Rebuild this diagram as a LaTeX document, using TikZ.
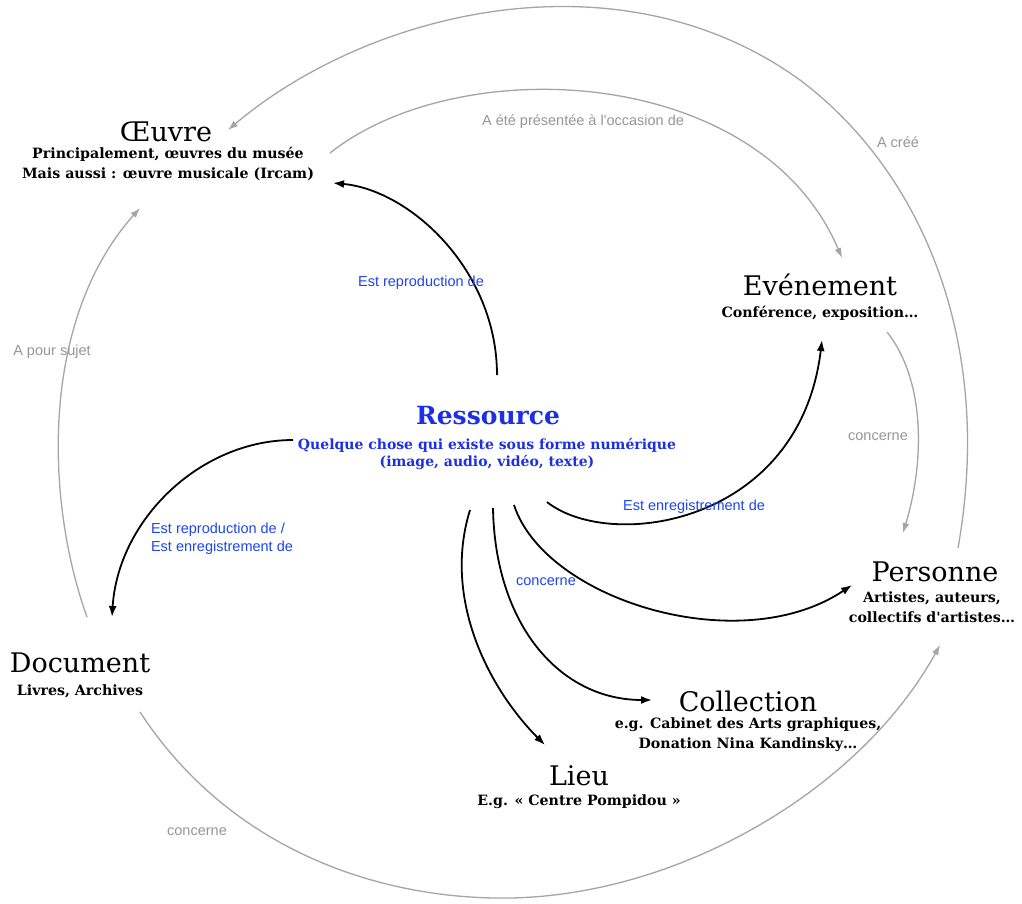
\documentclass[tikz,border=0pt]{standalone}
\usepackage{fontspec}
\setmainfont{DejaVu Serif}
\newfontfamily\slab{DejaVu Serif}
\newfontfamily\lab{Liberation Sans}
\usetikzlibrary{arrows.meta}
\definecolor{rblue}{RGB}{28,48,225}
\definecolor{lblue}{RGB}{30,70,235}
\definecolor{gline}{RGB}{165,165,165}
\definecolor{gtext}{RGB}{150,150,150}
\tikzset{
  ttl/.style={inner sep=0pt, font=\slab\fontsize{27}{29}\selectfont},
  sub/.style={inner sep=0pt, align=center, font=\slab\bfseries\fontsize{14.2}{20}\selectfont},
  rttl/.style={inner sep=0pt, text=rblue, font=\slab\bfseries\fontsize{25}{27}\selectfont},
  rsub/.style={inner sep=0pt, align=center, text=rblue, font=\slab\bfseries\fontsize{14}{17.5}\selectfont},
  glab/.style={inner sep=0pt, text=gtext, font=\lab\fontsize{14.5}{17}\selectfont},
  blab/.style={inner sep=0pt, text=lblue, font=\lab\fontsize{14.5}{18}\selectfont},
  blk/.style={draw=black, line width=1.8pt, -{Latex[length=11pt,width=8pt]}},
  gry/.style={draw=gline, line width=1.3pt, -{Latex[length=10pt,width=7pt]}}
}
\begin{document}
\begin{tikzpicture}[x=1pt,y=-1pt]
\useasboundingbox[fill=white] (0,0) rectangle (1022,903);
% entities
\node[ttl]  (oeuvre)     at (166,132) {Œuvre};
\node[sub]  (oeuvresub)  at (168,164) {Principalement, œuvres du musée\\Mais aussi : œuvre musicale (Ircam)};
\node[rttl] (ress)       at (488,416) {Ressource};
\node[rsub] (resssub)    at (487,454) {Quelque chose qui existe sous forme numérique\\(image, audio, vidéo, texte)};
\node[ttl]  (event)      at (820,285) {Evénement};
\node[sub]  (eventsub)   at (820,313) {Conférence, exposition…};
\node[ttl]  (pers)       at (935,572) {Personne};
\node[sub]  (perssub)    at (932,607) {Artistes, auteurs,\\collectifs d'artistes…};
\node[ttl]  (coll)       at (748,701) {Collection};
\node[sub]  (collsub)    at (748,735) {e.g. Cabinet des Arts graphiques,\\Donation Nina Kandinsky…};
\node[ttl]  (lieu)       at (579,776) {Lieu};
\node[sub]  (lieusub)    at (579,802) {E.g. « Centre Pompidou »};
\node[ttl]  (doc)        at (80,663)  {Document};
\node[sub]  (docsub)     at (80,691)  {Livres, Archives};
% connector end points
\coordinate (r-oe) at (497,375);
\coordinate (oe-in) at (333,183);
\coordinate (r-doc) at (293,440);
\coordinate (doc-in) at (112,617);
\coordinate (r-ev) at (547,502);
\coordinate (ev-in) at (822,340);
\coordinate (r-pe) at (514,505);
\coordinate (pe-in) at (852,585);
\coordinate (r-co) at (493,508);
\coordinate (co-in) at (652,700);
\coordinate (r-li) at (470,510);
\coordinate (li-in) at (545,745);
% black connectors
\draw[blk] (r-oe) .. controls (497,270) and (410,190) .. (oe-in);
\draw[blk] (r-doc) .. controls (200,440) and (118,520) .. (doc-in);
\draw[blk] (r-ev) .. controls (610,552) and (800,525) .. (ev-in);
\draw[blk] (r-pe) .. controls (545,600) and (740,660) .. (pe-in);
\draw[blk] (r-co) .. controls (495,625) and (560,700) .. (co-in);
\draw[blk] (r-li) .. controls (442,600) and (490,690) .. (li-in);
% gray connectors
\coordinate (pe-out) at (958,548);
\coordinate (oe-in2) at (228,130);
\coordinate (top) at (800,80);
\coordinate (oe-out) at (330,153);
\coordinate (ev-in2) at (842,258);
\coordinate (ev-out) at (887,332);
\coordinate (pe-in2) at (903,533);
\coordinate (doc-out1) at (87,617);
\coordinate (oe-in3) at (140,208);
\coordinate (doc-out2) at (140,712);
\coordinate (bot) at (510,898);
\coordinate (pe-in3) at (940,645);
\draw[gry] (pe-out) .. controls (995,340) and (920,170) .. (top) .. controls (620,-50) and (370,10) .. (oe-in2);
\draw[gry] (oe-out) .. controls (460,50) and (760,65) .. (ev-in2);
\draw[gry] (ev-out) .. controls (925,380) and (925,460) .. (pe-in2);
\draw[gry] (doc-out1) .. controls (45,500) and (40,320) .. (oe-in3);
\draw[gry] (doc-out2) .. controls (230,850) and (380,900) .. (bot) .. controls (680,895) and (860,790) .. (pe-in3);
% labels
\node[blab] (l1) at (421,283) {Est reproduction de};
\node[blab, align=left] (l2) at (222,539) {Est reproduction de /\\Est enregistrement de};
\node[blab] (l3) at (694,507) {Est enregistrement de};
\node[blab] (l4) at (546,582) {concerne};
\node[glab] (g1) at (898,142) {A créé};
\node[glab] (g2) at (583,122) {A été présentée à l'occasion de};
\node[glab] (g3) at (878,437) {concerne};
\node[glab] (g4) at (52,352) {A pour sujet};
\node[glab] (g5) at (197,832) {concerne};
\end{tikzpicture}
\end{document}
